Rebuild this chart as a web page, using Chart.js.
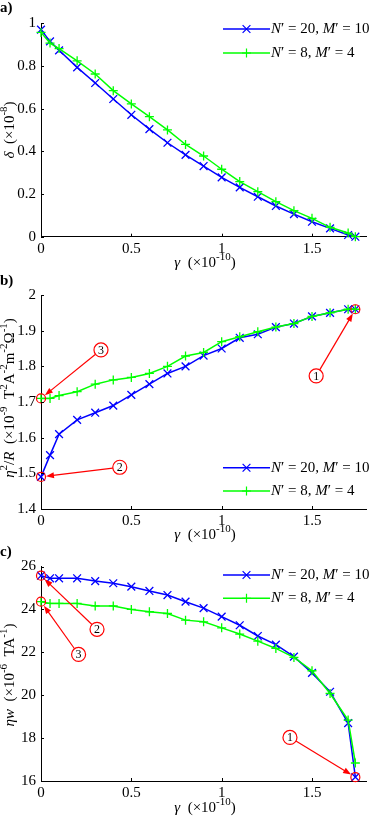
<!DOCTYPE html>
<html>
<head>
<meta charset="utf-8">
<title>delta, eta2/R and eta*w versus gamma</title>
<script src="https://cdn.jsdelivr.net/npm/chart.js"></script>
<style>
body { margin: 0; background: #fff; }
canvas { position: absolute; left: 0; }
</style>
</head>
<body>
<canvas id="panelA" width="373" height="272" style="top:0px"></canvas>
<canvas id="panelB" width="373" height="275" style="top:270px"></canvas>
<canvas id="panelC" width="373" height="278" style="top:540px"></canvas>

<script>
// gamma values (x10^-10), shared by both series in every panel
const gamma = [0, 0.05, 0.1, 0.2, 0.3, 0.4, 0.5, 0.6, 0.7, 0.8, 0.9, 1.0, 1.1, 1.2, 1.3, 1.4, 1.5, 1.6, 1.7, 1.74];

// a) delta (x10^-8)
const deltaN20 = [0.97, 0.915, 0.873, 0.793, 0.72, 0.645, 0.571, 0.504, 0.44, 0.383, 0.331, 0.278, 0.231, 0.187, 0.144, 0.106, 0.07, 0.039, 0.008, 0];
const deltaN8 = [0.957, 0.907, 0.881, 0.824, 0.762, 0.684, 0.622, 0.562, 0.5, 0.432, 0.378, 0.316, 0.258, 0.211, 0.164, 0.122, 0.086, 0.044, 0.017, 0];

// b) eta^2/R (x10^-9)
const etaRN20 = [1.49, 1.551, 1.61, 1.65, 1.67, 1.69, 1.72, 1.75, 1.78, 1.80, 1.83, 1.85, 1.88, 1.89, 1.91, 1.92, 1.94, 1.95, 1.96, 1.96];
const etaRN8 = [1.71, 1.71, 1.718, 1.729, 1.75, 1.762, 1.769, 1.78, 1.80, 1.829, 1.839, 1.869, 1.883, 1.897, 1.91, 1.92, 1.94, 1.95, 1.96, 1.96];

// c) eta*w (x10^-6)
const etaWN20 = [25.57, 25.45, 25.45, 25.45, 25.32, 25.22, 25.06, 24.86, 24.67, 24.36, 24.06, 23.66, 23.26, 22.76, 22.36, 21.8, 21.04, 20.16, 18.7, 16.18];
const etaWN8 = [24.36, 24.28, 24.28, 24.28, 24.16, 24.16, 24.0, 23.89, 23.81, 23.5, 23.42, 23.14, 22.85, 22.52, 22.18, 21.76, 21.14, 20.08, 18.84, 16.84];

// labels: _x_ = italic, ^x^ = superscript
const seriesLabels = ['_N_′ = 20, _M_′ = 10', '_N_′ = 8, _M_′ = 4'];
const gammaTicks = [0, 0.5, 1, 1.5];
const deltaTicks = [0, 0.2, 0.4, 0.6, 0.8, 1];
const etaRTicks = [1.4, 1.5, 1.6, 1.7, 1.8, 1.9, 2];
const etaWTicks = [16, 18, 20, 22, 24, 26];

const FONT = "'Liberation Serif', 'Times New Roman', serif";
const BLUE = '#0000ff';
const GREEN = '#00ff00';
const RED = '#ff0000';

function parseRich(str) {
  const parts = [];
  let cur = '', it = false, sup = false;
  for (const ch of str) {
    if (ch === '_' || ch === '^') {
      if (cur) parts.push({ t: cur, i: it, s: sup });
      cur = '';
      if (ch === '_') it = !it; else sup = !sup;
    } else {
      cur += ch;
    }
  }
  if (cur) parts.push({ t: cur, i: it, s: sup });
  return parts;
}

function fontOf(p, size) {
  const s = p.s ? Math.round(size * 0.7) : size;
  return (p.i ? 'italic ' : '') + s + 'px ' + FONT;
}

function drawRich(ctx, str, x, y, size, align, rotate) {
  const parts = parseRich(str);
  ctx.save();
  ctx.translate(x, y);
  if (rotate) ctx.rotate(-Math.PI / 2);
  let w = 0;
  parts.forEach(p => { ctx.font = fontOf(p, size); w += ctx.measureText(p.t).width; });
  let cx = align === 'center' ? -w / 2 : 0;
  ctx.textBaseline = 'middle';
  ctx.textAlign = 'left';
  ctx.fillStyle = '#000';
  parts.forEach(p => {
    ctx.font = fontOf(p, size);
    ctx.fillText(p.t, cx, p.s ? -size * 0.38 : 0);
    cx += ctx.measureText(p.t).width;
  });
  ctx.restore();
}

function arrow(ctx, x1, y1, x2, y2) {
  const a = Math.atan2(y2 - y1, x2 - x1);
  ctx.beginPath();
  ctx.moveTo(x1, y1);
  ctx.lineTo(x2 - 5 * Math.cos(a), y2 - 5 * Math.sin(a));
  ctx.stroke();
  ctx.beginPath();
  ctx.moveTo(x2, y2);
  ctx.lineTo(x2 - 8 * Math.cos(a) + 3 * Math.sin(a), y2 - 8 * Math.sin(a) - 3 * Math.cos(a));
  ctx.lineTo(x2 - 8 * Math.cos(a) - 3 * Math.sin(a), y2 - 8 * Math.sin(a) + 3 * Math.cos(a));
  ctx.closePath();
  ctx.fill();
}

function decor(cfg) {
  return {
    id: 'decor',
    afterDatasetsDraw(chart) {
      const ctx = chart.ctx;
      const xs = chart.scales.x, ys = chart.scales.y;
      ctx.save();
      ctx.strokeStyle = RED;
      ctx.fillStyle = RED;
      ctx.lineWidth = 1.2;
      cfg.notes.forEach(n => {
        const pt = chart.getDatasetMeta(n.ds).data[n.idx];
        const lx = xs.getPixelForValue(n.at[0]), ly = ys.getPixelForValue(n.at[1]);
        ctx.beginPath();
        ctx.arc(pt.x, pt.y, 4.5, 0, Math.PI * 2);
        ctx.stroke();
        const d = Math.hypot(pt.x - lx, pt.y - ly);
        const ux = (pt.x - lx) / d, uy = (pt.y - ly) / d;
        arrow(ctx, lx + ux * 7, ly + uy * 7, pt.x - ux * 5, pt.y - uy * 5);
        ctx.beginPath();
        ctx.arc(lx, ly, 7, 0, Math.PI * 2);
        ctx.fillStyle = '#fff';
        ctx.fill();
        ctx.stroke();
        ctx.fillStyle = '#000';
        ctx.font = '12px ' + FONT;
        ctx.textAlign = 'center';
        ctx.textBaseline = 'middle';
        ctx.fillText(n.n, lx, ly + 0.5);
        ctx.fillStyle = RED;
      });
      ctx.restore();
    },
    afterDraw(chart) {
      const ctx = chart.ctx;
      const area = chart.chartArea;
      const xs = chart.scales.x, ys = chart.scales.y;
      ctx.save();
      // inward tick marks
      ctx.strokeStyle = '#000';
      ctx.lineWidth = 1;
      gammaTicks.forEach(v => {
        const px = Math.round(xs.getPixelForValue(v)) + 0.5;
        ctx.beginPath(); ctx.moveTo(px, area.bottom); ctx.lineTo(px, area.bottom - 3); ctx.stroke();
      });
      cfg.yTicks.forEach(v => {
        const py = Math.round(ys.getPixelForValue(v)) + 0.5;
        ctx.beginPath(); ctx.moveTo(area.left, py); ctx.lineTo(area.left + 3, py); ctx.stroke();
      });
      // panel tag
      ctx.fillStyle = '#000';
      ctx.font = 'bold 15px ' + FONT;
      ctx.textAlign = 'left';
      ctx.textBaseline = 'middle';
      ctx.fillText(cfg.tag, 0, cfg.tagY);
      // axis titles
      drawRich(ctx, cfg.yTitle, 10, cfg.yTitleY, 15, 'center', true);
      drawRich(ctx, '_γ_  (×10^-10^)', 205, cfg.xTitleY, 15, 'center', false);
      // legend
      chart.data.datasets.forEach((ds, i) => {
        const y = cfg.legendY[i];
        ctx.strokeStyle = ds.borderColor;
        ctx.lineWidth = 1.5;
        ctx.beginPath(); ctx.moveTo(223, y); ctx.lineTo(270, y); ctx.stroke();
        ctx.lineWidth = 1.2;
        Chart.helpers.drawPoint(ctx, { pointStyle: ds.pointStyle, radius: ds.pointRadius, borderWidth: 1.2, rotation: 0 }, 246.5, y);
        drawRich(ctx, seriesLabels[i], 271, y, 15, 'left', false);
      });
      ctx.restore();
    }
  };
}

function lineSet(i, ys, color, style, radius, order) {
  return {
    label: seriesLabels[i].replace(/_/g, ''),
    data: gamma.map((g, k) => ({ x: g, y: ys[k] })),
    borderColor: color,
    backgroundColor: color,
    pointBorderColor: color,
    pointBackgroundColor: color,
    borderWidth: 1.5,
    pointStyle: style,
    pointRadius: radius,
    pointBorderWidth: 1.3,
    tension: 0,
    order: order,
    clip: false
  };
}

function makePanel(id, cfg) {
  const tickFont = { family: FONT, size: 15 };
  return new Chart(document.getElementById(id), {
    type: 'line',
    data: {
      datasets: [
        lineSet(0, cfg.blue, BLUE, 'crossRot', 5.5, 1),
        lineSet(1, cfg.green, GREEN, 'cross', 4.5, 0)
      ]
    },
    options: {
      responsive: false,
      animation: false,
      events: [],
      layout: { padding: { top: cfg.top, right: 3.3, left: 0, bottom: 0 } },
      plugins: { legend: { display: false }, tooltip: { enabled: false } },
      scales: {
        x: {
          type: 'linear',
          min: 0,
          max: 1.8,
          afterBuildTicks: s => { s.ticks = gammaTicks.map(v => ({ value: v })); },
          afterFit: s => { s.height = cfg.height - cfg.bottom; },
          grid: { display: false, drawTicks: false },
          border: { color: '#000', width: 1 },
          ticks: { font: tickFont, color: '#000', padding: 3, maxRotation: 0, callback: v => String(v) }
        },
        y: {
          type: 'linear',
          min: cfg.yMin,
          max: cfg.yMax,
          afterBuildTicks: s => { s.ticks = cfg.yTicks.map(v => ({ value: v })); },
          afterFit: s => { s.width = 41; },
          grid: { display: false, drawTicks: false },
          border: { color: '#000', width: 1 },
          ticks: { font: tickFont, color: '#000', padding: 5, callback: v => String(v) }
        }
      }
    },
    plugins: [decor(cfg)]
  });
}

makePanel('panelA', {
  blue: deltaN20, green: deltaN8, yMin: 0, yMax: 1, yTicks: deltaTicks,
  top: 23.2, height: 272, bottom: 236.7, tag: 'a)', tagY: 8,
  yTitle: '_δ_  (×10^-8^)', yTitleY: 130, xTitleY: 263,
  legendY: [29, 53], notes: []
});

makePanel('panelB', {
  blue: etaRN20, green: etaRN8, yMin: 1.4, yMax: 2, yTicks: etaRTicks,
  top: 25, height: 275, bottom: 239, tag: 'b)', tagY: 11,
  yTitle: '_η_^2^/_R_  (×10^-9^  T^2^A^-2^m^-2^Ω^-1^)', yTitleY: 128, xTitleY: 265,
  legendY: [197.7, 221],
  notes: [
    { n: '1', at: [1.523, 1.773], ds: 0, idx: 19 },
    { n: '3', at: [0.332, 1.846], ds: 1, idx: 0 },
    { n: '2', at: [0.436, 1.517], ds: 0, idx: 0 }
  ]
});

makePanel('panelC', {
  blue: etaWN20, green: etaWN8, yMin: 16, yMax: 26, yTicks: etaWTicks,
  top: 26.5, height: 278, bottom: 241, tag: 'c)', tagY: 12,
  yTitle: '_ηw_  (×10^-6^  TA^-1^)', yTitleY: 135, xTitleY: 268,
  legendY: [35, 58.3],
  notes: [
    { n: '2', at: [0.31, 23.07], ds: 0, idx: 0 },
    { n: '3', at: [0.208, 21.9], ds: 1, idx: 0 },
    { n: '1', at: [1.378, 18.03], ds: 0, idx: 19 }
  ]
});
</script>
</body>
</html>
